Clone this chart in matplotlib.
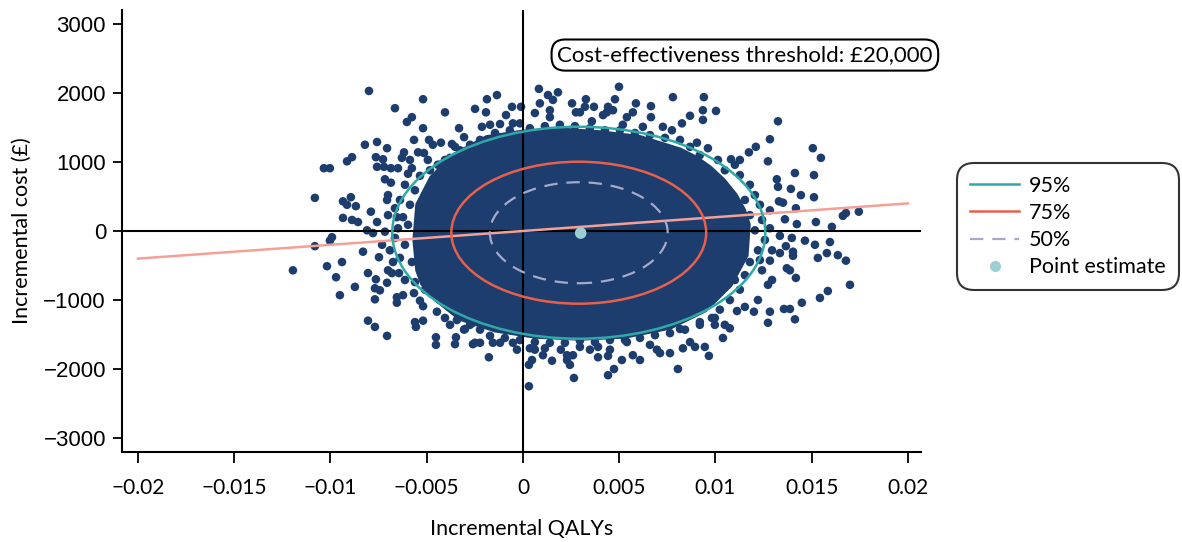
import matplotlib
matplotlib.use("Agg")
import matplotlib.pyplot as plt
from matplotlib.patches import Ellipse, Polygon
from matplotlib.lines import Line2D
import numpy as np

# ---------------- data ----------------
# Bootstrap replicates outside / at the edge of the dense core
qaly_pts = [
    -0.00800, -0.00519, -0.00665, -0.00577, -0.00603, -0.00405, -0.00249, -0.00519, -0.00332, -0.00306,
    -0.00758, -0.00821, -0.00706, -0.00566, -0.00488, -0.00468, -0.00426, -0.00369, -0.00353, -0.00888,
    -0.00914, -0.01034, -0.01003, -0.00764, -0.00727, -0.00758, -0.00722, -0.00686, -0.00649, -0.00618,
    -0.00629, -0.00587, -0.00545, -0.00514, -0.00494, -0.00577, -0.00597, -0.00717, -0.00686, -0.01081,
    -0.00935, -0.00894, -0.00914, -0.00868, -0.00701, -0.00706, -0.00790, -0.00935, -0.00888, -0.00857,
    -0.00758, -0.00701, -0.00655, -0.00623, -0.00810, -0.00779, -0.00992, -0.01003, -0.01081, -0.00831,
    -0.00748, -0.00940, -0.01018, -0.00971, -0.00805, -0.00764, -0.00701, -0.00681, -0.00644, -0.00873,
    -0.00951, -0.00769, -0.00743, -0.00706, -0.00769, -0.00655, -0.00655, -0.00623, -0.00566, -0.00535,
    -0.00519, -0.00447, -0.00405, -0.00805, -0.00769, -0.00706, -0.00561, -0.00556, -0.00519, -0.00452,
    -0.00452, -0.00379, -0.00348, -0.00353, -0.00301, -0.00260, -0.00260, -0.00343, -0.01195,
    0.00031, 0.00265, 0.00442, 0.00473, 0.00805, -0.00177, 0.00031, 0.00047, 0.00104, 0.00151,
    0.00229, 0.00244, 0.00229, 0.00260, 0.00197, 0.00390, 0.00442, 0.00514, 0.00571, 0.00608,
    0.00712, 0.00764, 0.00831, 0.00894, 0.00945, 0.00966, 0.00868, -0.00249, -0.00223, -0.00156,
    -0.00119, -0.00052, -0.00031, 0.00036, 0.00062, 0.00296, 0.00390, 0.00452, 0.00540, 0.00696,
    -0.00306,
    0.01325, 0.01283, 0.01210, 0.01174, 0.01506, 0.01548, 0.01081, 0.01127, 0.01273, 0.01319,
    0.01413, 0.01512, 0.01325, 0.01392, 0.01444, 0.01512, 0.01330, 0.01351, 0.01418, 0.01283,
    0.01745, 0.01678, 0.01662, 0.01361, 0.01423, 0.01522, 0.01605, 0.01335, 0.01397, 0.01465,
    0.01517, 0.01595, 0.01366, 0.01403, 0.01403, 0.01335, 0.01294, 0.01532, 0.01579, 0.01636,
    0.01678, 0.01283, 0.01371, 0.01387, 0.01418, 0.01699, 0.01584, 0.01543, 0.01294, 0.01273,
    0.01221, 0.01449, 0.01356, 0.01387, 0.01283, 0.01200, 0.01413, 0.01273, 0.01112, 0.01153,
    0.01049, 0.01075, 0.00997, 0.01039, 0.00816,
    0.00499, 0.00083, 0.00130, 0.00182, -0.00135, -0.00187, -0.00192, -0.00057, -0.00088, -0.00010,
    0.00088, 0.00156, 0.00255, 0.00327, 0.00322, 0.00369, 0.00478, 0.00442, 0.00468, 0.00587,
    0.00665, 0.00779, 0.00940, 0.00935, 0.01003, 0.00571, 0.00540, 0.00665, 0.00868, 0.00826,
    0.00935, -0.00213, -0.00171, -0.00119, -0.00052, -0.00016, 0.00062, 0.00140, 0.00140, 0.00275,
    0.00296, 0.00358, 0.00416, 0.00436, 0.00519, 0.00623, 0.00727, 0.00774, 0.00904, 0.00961,
    # band around the edge of the dense mass
    -0.00613, -0.00561, -0.00639, -0.00587, -0.00665, -0.00535, -0.00597, -0.00649, -0.00717, -0.00665,
    -0.00613, -0.00691, -0.00639, -0.00577, -0.00732, -0.00675, -0.00613, -0.00561, -0.00509, -0.00483,
    -0.00535, -0.00483, -0.00442, -0.00405, -0.00509, -0.00483, -0.00494, -0.00473, -0.00431, -0.00379,
    -0.00327, -0.00275, -0.00405, -0.00442,
    0.01127, 0.01179, 0.01205, 0.01231, 0.01153, 0.01242, 0.01205, 0.01257, 0.01221, 0.01179,
    0.01242, 0.01153, 0.01127, 0.01075, 0.01023, 0.00982, 0.00919, 0.01101, 0.01179, 0.01049,
    0.01013, 0.01101, 0.01231, 0.01283,
    -0.00223, -0.00145, -0.00068, 0.00036, 0.00114, 0.00192, 0.00270, 0.00348, 0.00426, 0.00504,
    0.00582, 0.00660, 0.00738, 0.00816, 0.00868, 0.00919, -0.00275, -0.00327, -0.00379, -0.00431,
    -0.00223, -0.00171, -0.00094, -0.00016, 0.00062, 0.00140, 0.00218, 0.00296, 0.00374, 0.00452,
    0.00530, 0.00608, 0.00686, 0.00764, 0.00842, 0.00919, 0.00997, -0.00275, 0.00114, 0.00348,
    0.00660,
]
cost_pts = [
    2030, 1910, 1780, 1650, 1580, 1720, 1770, 1490, 1490, 1360,
    1290, 1250, 1200, 1320, 1320, 1250, 1280, 1260, 1220, 1070,
    1010, 910, 910, 1070, 1040, 930, 930, 910, 910, 1140,
    1060, 1030, 1140, 1130, 1030, 910, 830, 750, 700, 480,
    430, 490, 380, 360, 520, 450, 280, 190, 160, 130,
    130, 230, 200, 200, 10, -30, -90, -140, -220, -300,
    -380, -450, -510, -670, -610, -700, -570, -610, -610, -810,
    -930, -830, -860, -750, -990, -960, -1040, -930, -900, -1010,
    -1090, -1170, -1260, -1300, -1390, -1520, -1320, -1390, -1300, -1540,
    -1650, -1360, -1540, -1640, -1420, -1330, -1640, -1290, -570,
    -2250, -2130, -2090, -2000, -2000, -1830, -1940, -1870, -1800, -1880,
    -1870, -1940, -1800, -1800, -1720, -1830, -1810, -1870, -1800, -1870,
    -1770, -1770, -1700, -1680, -1680, -1810, -1610, -1620, -1620, -1620,
    -1620, -1620, -1720, -1700, -1720, -1680, -1680, -1720, -1610, -1720,
    -1430,
    1590, 1330, 1220, 1140, 1200, 1060, 1040, 1030, 1010, 750,
    840, 810, 640, 610, 520, 490, 430, 410, 330, 300,
    280, 260, 220, 170, 100, 130, 60, -70, -100, -140,
    -200, -160, -220, -300, -360, -320, -280, -390, -320, -350,
    -430, -430, -540, -570, -680, -780, -870, -970, -710, -780,
    -1000, -1040, -1130, -1130, -1170, -1170, -1280, -1330, -1160, -1100,
    -1360, -1410, -1360, -1550, -1420,
    2090, 2060, 1970, 2010, 1970, 1910, 1720, 1800, 1680, 1800,
    1850, 1900, 1850, 1910, 1800, 1800, 1910, 1800, 1750, 1850,
    1810, 1940, 1940, 1750, 1740, 1720, 1650, 1650, 1670, 1560,
    1610, 1510, 1540, 1550, 1560, 1560, 1710, 1750, 1650, 1720,
    1720, 1590, 1680, 1720, 1540, 1510, 1510, 1460, 1280, 1200,
    # band around the edge of the dense mass
    670, 590, 450, 380, 330, 280, 90, 40, -10, -100,
    -200, -280, -390, -450, -200, -450, -710, -740, -850, -710,
    800, 880, 960, 1030, 520, 160, -200, -420, -1000, -1070,
    -1140, -1220, -850, -570,
    810, 670, 520, 380, 450, 160, 10, -130, -280, -450,
    -570, -640, -850, -1000, -1140, -1260, -1320, -710, 230, 880,
    1030, 960, -420, 40,
    1320, 1420, 1460, 1490, 1520, 1540, 1520, 1490, 1460, 1460,
    1420, 1390, 1350, 1320, 1220, 1100, 1250, 1170, 1060, 960,
    -1430, -1520, -1550, -1580, -1610, -1620, -1620, -1590, -1610, -1580,
    -1580, -1550, -1510, -1480, -1430, -1360, -1260, -1360, -1700, -1720,
    -1650,
]

# Outline of the region where replicates overlap into a solid mass
core_qaly = [0.00000, 0.00192, 0.00400, 0.00608, 0.00816, 0.00900, 0.00971, 0.01040,
             0.01101, 0.01145, 0.01169,
             0.01158, 0.01075, 0.00945, 0.00764, 0.00530, 0.00296, 0.00062, -0.00145,
             -0.00327, -0.00457, -0.00520, -0.00545, -0.00560, -0.00545, -0.00473, -0.00353, -0.00187]
core_cost = [1430, 1460, 1420, 1350, 1170, 1050, 910, 730,
             520, 300, 90,
             -350, -780, -1140, -1390, -1520, -1550, -1520, -1430,
             -1260, -970, -760, -570, -130, 380, 770, 1100, 1350]

# Point estimate
point_qaly = 0.0030
point_cost = -30

# Confidence ellipses (centre, half-width in QALYs, half-height in £)
ellipse_labels = ["95%", "75%", "50%"]
ellipse_centre = (0.0029, -25)
ellipse_half_w = [0.00969, 0.00662, 0.00462]
ellipse_half_h = [1536, 1029, 732]

# Cost-effectiveness threshold (£ per QALY)
threshold = 20000
threshold_x = [-0.02, 0.02]

x_ticks = [-0.02, -0.015, -0.01, -0.005, 0, 0.005, 0.01, 0.015, 0.02]
x_ticklabels = ["\u22120.02", "\u22120.015", "\u22120.01", "\u22120.005", "0",
                "0.005", "0.01", "0.015", "0.02"]
y_ticks = [-3000, -2000, -1000, 0, 1000, 2000, 3000]
y_ticklabels = ["\u22123000", "\u22122000", "\u22121000", "0", "1000", "2000", "3000"]

# ---------------- styling ----------------
NAVY = "#1c3d6e"
TEAL = "#2fa9a8"
RED = "#e8604c"
LAV = "#a8a9c8"
SALMON = "#f4a097"
PT = "#9ccfd2"

plt.rcParams["font.family"] = ["Lato", "DejaVu Sans"]

fig = plt.figure(figsize=(11.82, 5.42), dpi=100)
ax = fig.add_axes([122 / 1182, 90 / 542, (921 - 122) / 1182, (532 - 90) / 542])

ax.set_xlim(-0.02083, 0.02068)
ax.set_ylim(-3203, 3203)

# dense core + replicates
ax.add_patch(Polygon(np.column_stack([core_qaly, core_cost]), closed=True,
                     facecolor=NAVY, edgecolor=NAVY, lw=4, zorder=2))
ax.scatter(qaly_pts, cost_pts, s=38, color=NAVY, edgecolors="none", zorder=2)

# quadrant lines
ax.axhline(0, color="black", lw=1.5, zorder=3)
ax.axvline(0, color="black", lw=1.5, zorder=3)

# threshold line
tx = np.array(threshold_x)
ax.plot(tx, threshold * tx, color=SALMON, lw=1.8, zorder=5)

# ellipses
styles = [dict(color=TEAL, ls="-", lw=1.8), dict(color=RED, ls="-", lw=1.8),
          dict(color=LAV, ls=(0, (6, 4)), lw=1.6)]
handles = []
for lab, hw, hh, st in zip(ellipse_labels, ellipse_half_w, ellipse_half_h, styles):
    ax.add_patch(Ellipse(ellipse_centre, 2 * hw, 2 * hh, fill=False,
                         edgecolor=st["color"], linestyle=st["ls"], lw=st["lw"], zorder=6))
    handles.append(Line2D([0], [0], color=st["color"], ls=st["ls"], lw=st["lw"], label=lab))

ax.scatter([point_qaly], [point_cost], s=70, color=PT, edgecolors="none", zorder=7)
handles.append(Line2D([0], [0], marker="o", color="none", markerfacecolor=PT,
                      markeredgecolor="none", markersize=8, label="Point estimate"))

# axes styling
for s in ["top", "right"]:
    ax.spines[s].set_visible(False)
for s in ["left", "bottom"]:
    ax.spines[s].set_linewidth(1.5)
ax.set_xticks(x_ticks)
ax.set_xticklabels(x_ticklabels, fontsize=15)
ax.set_yticks(y_ticks)
ax.set_yticklabels(y_ticklabels, fontsize=16, family=["Liberation Sans", "DejaVu Sans"])
ax.tick_params(axis="x", direction="out", length=8, width=1.3, pad=11)
ax.tick_params(axis="y", direction="out", length=6.5, width=1.3, pad=5)

ax.set_xlabel("Incremental QALYs", fontsize=15.5, labelpad=15)
ax.set_ylabel("Incremental cost (\u00a3)", fontsize=15.5, labelpad=8)

# threshold annotation
ax.text(0.01153, 2550, "Cost-effectiveness threshold: \u00a320,000", fontsize=16,
        ha="center", va="center", zorder=8,
        bbox=dict(boxstyle="round,pad=0.25,rounding_size=0.6", facecolor="white",
                  edgecolor="black", lw=1.5))

leg = fig.legend(handles=handles, loc="upper left", bbox_to_anchor=(957 / 1182, 1 - 163 / 542),
                 borderaxespad=0, frameon=True, fontsize=15.5, handlelength=2.3,
                 handletextpad=0.45, borderpad=0.6, labelspacing=0.33, fancybox=True)
leg.get_frame().set_edgecolor("black")
leg.get_frame().set_linewidth(1.5)
leg.get_frame().set_boxstyle("round,pad=0,rounding_size=0.8")

fig.savefig("out.png", dpi=100)
